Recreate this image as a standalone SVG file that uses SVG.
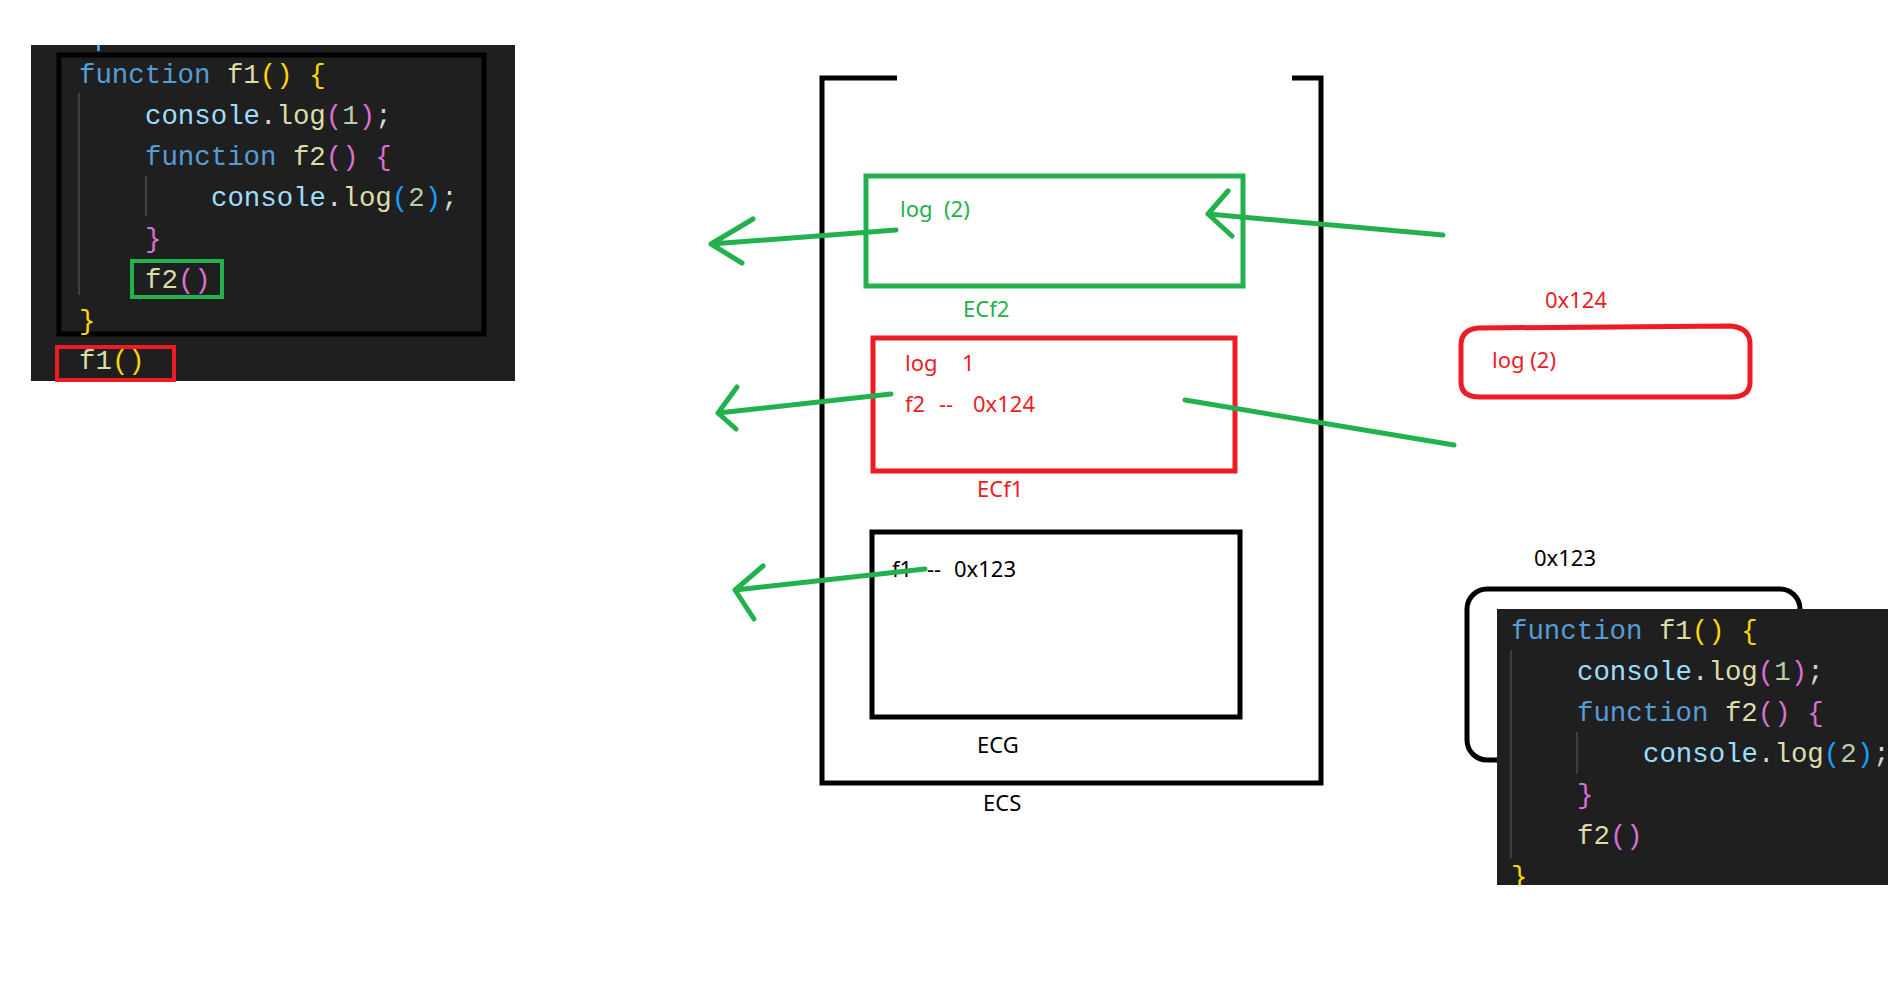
<svg xmlns="http://www.w3.org/2000/svg" width="1888" height="999" viewBox="0 0 1888 999">
<defs>
<style>
.code{font-family:"Liberation Mono","DejaVu Sans Mono",monospace;font-size:27.4px;}
.kw{fill:#569cd6}.fn{fill:#dcdcaa}.var{fill:#9cdcfe}.num{fill:#b5cea8}.pl{fill:#d4d4d4}
.b1{fill:#ffd700}.b2{fill:#da70d6}.b3{fill:#179fff}
.lbl{font-family:"Noto Sans","Open Sans","Liberation Sans",sans-serif;font-size:22px;}
.g{fill:#22b14c}.r{fill:#ed1c24}.k{fill:#000}
.arrow{stroke:#22b14c;stroke-width:5;fill:none;stroke-linecap:round;stroke-linejoin:round}
.guide{stroke:#404040;stroke-width:2}
</style>
<clipPath id="rclip"><rect x="1497" y="609" width="391" height="276"/></clipPath>
</defs>
<rect width="1888" height="999" fill="#fff"/>

<g id="code-left">
<rect x="31" y="45" width="484" height="336" fill="#1f1f1f"/>
<rect x="97" y="45" width="3" height="6" fill="#569cd6"/>
<rect x="59" y="55" width="425" height="279" fill="none" stroke="#000" stroke-width="5"/>
<line class="guide" x1="79" y1="93" x2="79" y2="295"/>
<line class="guide" x1="146" y1="176" x2="146" y2="216"/>
<text class="code" x="79" y="83" xml:space="preserve"><tspan class="kw">function</tspan><tspan class="fn"> f1</tspan><tspan class="b1">()</tspan><tspan class="pl"> </tspan><tspan class="b1">{</tspan></text>
<text class="code" x="145" y="124"><tspan class="var">console</tspan><tspan class="pl">.</tspan><tspan class="fn">log</tspan><tspan class="b2">(</tspan><tspan class="num">1</tspan><tspan class="b2">)</tspan><tspan class="pl">;</tspan></text>
<text class="code" x="145" y="165" xml:space="preserve"><tspan class="kw">function</tspan><tspan class="fn"> f2</tspan><tspan class="b2">()</tspan><tspan class="pl"> </tspan><tspan class="b2">{</tspan></text>
<text class="code" x="211" y="206"><tspan class="var">console</tspan><tspan class="pl">.</tspan><tspan class="fn">log</tspan><tspan class="b3">(</tspan><tspan class="num">2</tspan><tspan class="b3">)</tspan><tspan class="pl">;</tspan></text>
<text class="code b2" x="145" y="247">}</text>
<text class="code" x="145" y="288"><tspan class="fn">f2</tspan><tspan class="b2">()</tspan></text>
<text class="code b1" x="79" y="329">}</text>
<text class="code" x="79" y="369"><tspan class="fn">f1</tspan><tspan class="b1">()</tspan></text>
<rect x="132" y="261" width="90" height="36" fill="none" stroke="#22b14c" stroke-width="4"/>
<rect x="57" y="347" width="117" height="33" fill="none" stroke="#ed1c24" stroke-width="4"/>
</g>

<g id="ecs">
<path d="M897,78 H822 V783 H1321 V78 H1292" fill="none" stroke="#000" stroke-width="5"/>
<text class="lbl k" x="983" y="811">ECS</text>
</g>

<g id="ecf2">
<rect x="866" y="176" width="377" height="110" fill="none" stroke="#22b14c" stroke-width="5"/>
<text class="lbl g" x="900" y="217" xml:space="preserve">log  (2)</text>
<text class="lbl g" x="963" y="317">ECf2</text>
</g>

<g id="ecf1">
<rect x="873" y="338" width="362" height="133" fill="none" stroke="#ed1c24" stroke-width="5"/>
<text class="lbl r" x="905" y="371">log</text>
<text class="lbl r" x="962" y="371">1</text>
<text class="lbl r" x="905" y="412">f2</text>
<text class="lbl r" x="939" y="412">--</text>
<text class="lbl r" x="973" y="412">0x124</text>
<text class="lbl r" x="977" y="497">ECf1</text>
</g>

<g id="ecg">
<rect x="872" y="532" width="368" height="185" fill="none" stroke="#000" stroke-width="5"/>
<text class="lbl k" x="892" y="577">f1</text>
<text class="lbl k" x="927" y="577">--</text>
<text class="lbl k" x="954" y="577">0x123</text>
<text class="lbl k" x="977" y="753">ECG</text>
</g>

<g id="heap-f2">
<text class="lbl r" x="1545" y="308">0x124</text>
<path d="M1478,328 Q1461,330 1461,345 V382 Q1461,397 1480,397 H1731 Q1750,397 1750,382 V344 Q1750,328 1731,326 Z" fill="none" stroke="#ed1c24" stroke-width="5"/>
<text class="lbl r" x="1492" y="368">log (2)</text>
</g>

<g id="heap-f1">
<text class="lbl k" x="1534" y="566">0x123</text>
<rect x="1467" y="589" width="333" height="171" rx="20" fill="none" stroke="#000" stroke-width="5"/>
<rect x="1497" y="609" width="391" height="276" fill="#1f1f1f"/>
<g clip-path="url(#rclip)">
<line class="guide" x1="1511" y1="650" x2="1511" y2="858"/>
<line class="guide" x1="1577" y1="732" x2="1577" y2="774"/>
<text class="code" x="1511" y="639" xml:space="preserve"><tspan class="kw">function</tspan><tspan class="fn"> f1</tspan><tspan class="b1">()</tspan><tspan class="pl"> </tspan><tspan class="b1">{</tspan></text>
<text class="code" x="1577" y="680"><tspan class="var">console</tspan><tspan class="pl">.</tspan><tspan class="fn">log</tspan><tspan class="b2">(</tspan><tspan class="num">1</tspan><tspan class="b2">)</tspan><tspan class="pl">;</tspan></text>
<text class="code" x="1577" y="721" xml:space="preserve"><tspan class="kw">function</tspan><tspan class="fn"> f2</tspan><tspan class="b2">()</tspan><tspan class="pl"> </tspan><tspan class="b2">{</tspan></text>
<text class="code" x="1643" y="762"><tspan class="var">console</tspan><tspan class="pl">.</tspan><tspan class="fn">log</tspan><tspan class="b3">(</tspan><tspan class="num">2</tspan><tspan class="b3">)</tspan><tspan class="pl">;</tspan></text>
<text class="code b2" x="1577" y="803">}</text>
<text class="code" x="1577" y="844"><tspan class="fn">f2</tspan><tspan class="b2">()</tspan></text>
<text class="code b1" x="1511" y="885">}</text>
</g>
</g>

<g id="connectors">
<path class="arrow" d="M896,230 L711,244 M753,219 L711,244 L742,263"/>
<path class="arrow" d="M891,394 L718,413 M737,387 L718,413 L736,429"/>
<path class="arrow" d="M925,569 L735,590 M763,566 L735,590 L754,619"/>
<path class="arrow" d="M1443,235 L1208,214 M1228,191 L1208,214 L1232,236"/>
<path class="arrow" d="M1185,400 L1454,445"/>
</g>
</svg>
